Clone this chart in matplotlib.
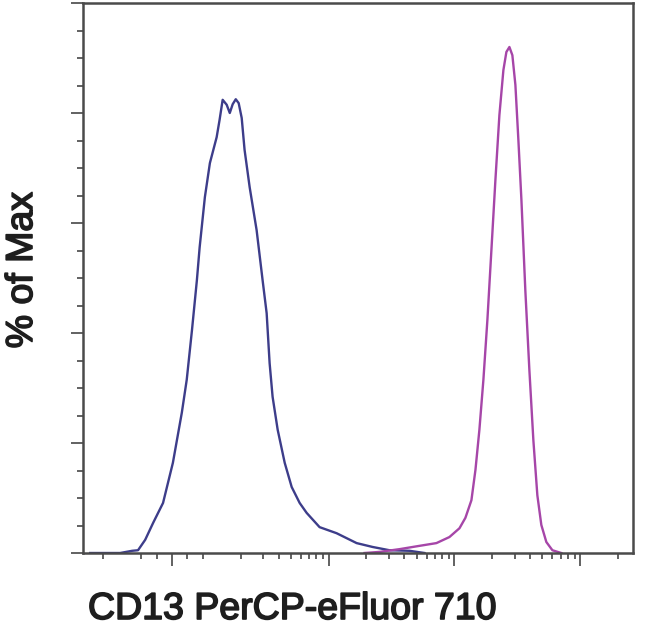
import numpy as np
import matplotlib
matplotlib.use('Agg')
import matplotlib.pyplot as plt
import matplotlib.patheffects as pe
from matplotlib.ticker import FixedLocator, NullFormatter

plt.rcParams['font.family'] = ['Liberation Sans', 'DejaVu Sans']

# blue histogram (isotype / unstained), x = fluorescence intensity, y = % of max
blue_x = [-254, -147, -118, -106, -87, -61, -29, 3, 32, 48, 65, 81, 90,
          104, 114, 129, 136, 144, 155, 164, 173, 183, 193, 204, 215, 236,
          268, 299, 322, 340, 359, 394, 448, 509, 589, 669, 848, 1157, 1670,
          2234, 3048, 4395, 5780]
blue_y = [0, 0, 0.4, 0.5, 2.4, 5.5, 9.1, 16.4, 25.5, 31.5, 40.5, 49.6, 55.6,
          64.7, 70.9, 75.6, 78.7, 82.4, 81.5, 80.0, 81.6, 82.5, 81.8, 79.1,
          73.3, 66.5, 58.7, 49.6, 43.6, 34.5, 28.4, 22.4, 16.4, 12.0, 9.1,
          7.3, 4.7, 3.6, 1.8, 1.1, 0.5, 0.4, 0]

# magenta histogram (CD13 stained)
mag_x = [1930, 2540, 3660, 5270, 7190, 9120, 10960, 12220, 13640, 14680,
         15780, 16980, 18270, 19660, 21150, 22750, 24480, 25860, 27330,
         28850, 30490, 32200, 34040, 36560, 39370, 42360, 45560, 49000,
         53700, 60000, 70600]
mag_y = [0, 0.2, 0.7, 1.3, 1.8, 2.9, 4.5, 6.4, 9.6, 15.1, 22.4, 31.5, 42.4,
         55.1, 67.8, 79.6, 87.8, 91.1, 92.0, 90.5, 85.1, 75.1, 64.2, 47.8,
         33.3, 20.5, 10.5, 5.1, 2.0, 0.5, 0]

x_major = [0, 1e3, 1e4, 1e5]
x_minor = [-200, -100, -50, 50, 100] + \
          [k * 10 ** e for e in (2, 3, 4) for k in range(2, 10)] + [2e5]

fig = plt.figure(figsize=(6.5, 6.34), dpi=100)
ax = fig.add_axes([83 / 650, 1 - 553 / 634, 550 / 650, 550 / 634])

ax.plot(blue_x, blue_y, color='#3d3d8a', lw=1.7)
ax.plot(mag_x, mag_y, color='#a646a8', lw=1.7)

ax.set_xscale('symlog', linthresh=100, linscale=0.22)
ax.set_xlim(-290, 262144)
ax.set_ylim(0, 100)

ax.xaxis.set_major_locator(FixedLocator(x_major))
ax.xaxis.set_minor_locator(FixedLocator(x_minor))
ax.yaxis.set_major_locator(FixedLocator([0, 20, 40, 60, 80, 100]))
ax.yaxis.set_minor_locator(FixedLocator(np.arange(0, 101, 5)))
ax.xaxis.set_major_formatter(NullFormatter())
ax.yaxis.set_major_formatter(NullFormatter())
ax.tick_params(which='major', length=9, width=1.3, color='#555555', direction='out')
ax.tick_params(which='minor', length=4, width=1.3, color='#555555', direction='out')

for s in ax.spines.values():
    s.set_color('#4a4a4a')
    s.set_linewidth(1.8)

# labels look a bit heavier than plain regular weight
thick = [pe.withStroke(linewidth=1.2, foreground='#1e1e1e')]
fig.text(88 / 650, 1 - 619 / 634, 'CD13 PerCP-eFluor 710', fontsize=27,
         color='#1e1e1e', ha='left', va='baseline', path_effects=thick)
fig.text(22 / 650, 1 - 270 / 634, '% of Max', fontsize=27, color='#1e1e1e',
         rotation=90, ha='center', va='center', path_effects=thick)

fig.savefig('out.png', dpi=100, facecolor='white')
